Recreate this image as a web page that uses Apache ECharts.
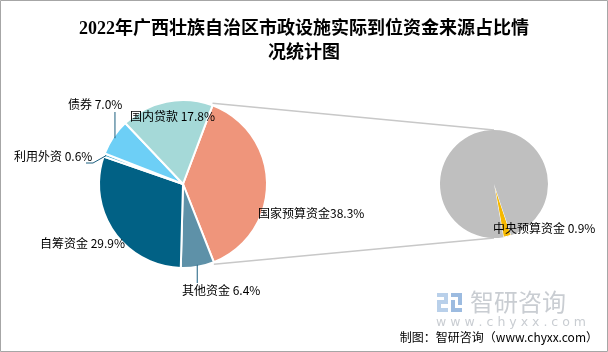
<!DOCTYPE html>
<html>
<head>
<meta charset="utf-8">
<script src="https://cdn.jsdelivr.net/npm/echarts@6/dist/echarts.min.js"></script>
<style>
  html, body { margin: 0; padding: 0; background: #fff; }
  #chart { width: 608px; height: 352px; }
</style>
</head>
<body>
<div id="chart"></div>
<script>
// 主饼图：资金来源（%）
var sourceNames = ['国家预算资金', '其他资金', '自筹资金', '利用外资', '债券', '国内贷款']
var sourceValues = [38.3, 6.4, 29.9, 0.6, 7.0, 17.8]
var sourceColors = ['#EF957B', '#5E91A8', '#016185', '#3EA8CF', '#6DCFF6', '#A5D9D8']

// 子饼图：国家预算资金拆分（%）
var subNames = ['中央预算资金', '其他']
var subValues = [0.9, 37.4]
var subColors = ['#F5B800', '#BFBFBF']

var mainCenter = [183, 184], mainRadius = 84
var subCenter = [494, 184], subRadius = 54
var mainStart = 69.4   // 度，逆时针自3点方向
var subStart = -71.5

// 标签位置（左端x，中线y）
var mainLabelPos = [[258, 213], [182, 290], [40, 243], [14, 156], [68, 104], [130, 116]]
var subLabelPos = [[493, 228], [0, 0]]

var chart = echarts.init(document.getElementById('chart'))

function fmt(p) {
  var sep = p.name === '国家预算资金' ? '' : ' '
  return p.name + sep + p.value.toFixed(1) + '%'
}

// 连接线：国家预算资金扇区两边 -> 子饼图上下
var total = sourceValues.reduce(function (a, b) { return a + b }, 0)
var a1 = (90 - mainStart) * Math.PI / 180
var a2 = a1 + sourceValues[0] / total * 2 * Math.PI
function edgePt(a, r) {
  return [mainCenter[0] + r * Math.sin(a), mainCenter[1] - r * Math.cos(a)]
}
var p1 = edgePt(a1, mainRadius), p2 = edgePt(a2, mainRadius)

// 扇区中点（引导线起点）
function midPt(i) {
  var before = 0
  for (var k = 0; k < i; k++) before += sourceValues[k]
  var a = a1 + (before + sourceValues[i] / 2) / total * 2 * Math.PI
  return edgePt(a, mainRadius - 2)
}
var mOther = midPt(1), mForeign = midPt(3), mBond = midPt(4)
var guideStyle = {stroke: '#1B5E7E', lineWidth: 1, fill: 'none'}

var labelFont = {fontSize: 12, color: '#000', fontFamily: '"Noto Sans CJK SC", sans-serif'}

chart.setOption({
  animation: false,
  title: {
    text: '2022年广西壮族自治区市政设施实际到位资金来源占比情\n况统计图',
    left: 'center',
    top: 12,
    textStyle: {
      fontSize: 18,
      fontWeight: 'bold',
      lineHeight: 24,
      color: '#000',
      fontFamily: '"Liberation Serif", "Noto Sans CJK SC", serif'
    }
  },
  graphic: [
    {type: 'rect', shape: {x: 0.5, y: 0.5, width: 607, height: 351}, style: {fill: 'none', stroke: '#A6A6A6', lineWidth: 1}, z: 0},
    {type: 'line', shape: {x1: p1[0], y1: p1[1] - 2, x2: subCenter[0], y2: subCenter[1] - subRadius}, style: {stroke: '#C8C8C8', lineWidth: 1.5}},
    {type: 'line', shape: {x1: p2[0], y1: p2[1] + 2, x2: subCenter[0], y2: subCenter[1] + subRadius}, style: {stroke: '#C8C8C8', lineWidth: 1.5}},
    // 引导线
    {type: 'polyline', z: 10, shape: {points: [mOther, [mOther[0], 283]]}, style: guideStyle},
    {type: 'polyline', z: 10, shape: {points: [mBond, [mBond[0], 112]]}, style: guideStyle},
    {type: 'polyline', z: 10, shape: {points: [mForeign, [93, 163], [86, 163]]}, style: guideStyle},
    // 水印
    {type: 'rect', shape: {x: 437, y: 293, width: 11, height: 4}, style: {fill: '#B9D0EA'}},
    {type: 'rect', shape: {x: 444, y: 293, width: 4, height: 11}, style: {fill: '#B9D0EA'}},
    {type: 'rect', shape: {x: 437, y: 300, width: 11, height: 4}, style: {fill: '#B9D0EA'}},
    {type: 'rect', shape: {x: 437, y: 300, width: 4, height: 12}, style: {fill: '#B9D0EA'}},
    {type: 'rect', shape: {x: 437, y: 308, width: 11, height: 4}, style: {fill: '#B9D0EA'}},
    {type: 'rect', shape: {x: 451, y: 293, width: 11, height: 4}, style: {fill: '#9CBBE0'}},
    {type: 'rect', shape: {x: 451, y: 300, width: 4, height: 12}, style: {fill: '#9CBBE0'}},
    {type: 'rect', shape: {x: 451, y: 308, width: 11, height: 4}, style: {fill: '#9CBBE0'}},
    {type: 'rect', shape: {x: 458, y: 293, width: 4, height: 12}, style: {fill: '#9CBBE0'}},
    {type: 'text', left: 470, top: 290, style: {text: '智研咨询', fontSize: 24, fill: '#C9CDD2', fontFamily: '"Noto Sans CJK SC", sans-serif'}},
    {type: 'text', left: 436, top: 316, style: {text: 'w w w . c h y x x . c o m', fontSize: 12.5, fill: '#C9CDD2', fontFamily: '"DejaVu Sans", sans-serif'}},
    {type: 'text', right: 10, top: 331, style: {text: '制图：智研咨询（www.chyxx.com）', fontSize: 12, fill: '#000', fontFamily: '"Noto Sans CJK SC", sans-serif'}}
  ],
  series: [
    {
      type: 'pie',
      center: mainCenter,
      radius: mainRadius,
      startAngle: mainStart,
      clockwise: true,
      avoidLabelOverlap: false,
      itemStyle: {borderColor: '#fff', borderWidth: 2},
      label: Object.assign({position: 'outside', formatter: fmt}, labelFont),
      labelLine: {show: false},
      labelLayout: function (p) {
        var pos = mainLabelPos[p.dataIndex]
        return {x: pos[0], y: pos[1], align: 'left', verticalAlign: 'middle'}
      },
      data: sourceNames.map(function (n, i) {
        return {name: n, value: sourceValues[i], itemStyle: {color: sourceColors[i]}}
      })
    },
    {
      type: 'pie',
      center: subCenter,
      radius: subRadius,
      startAngle: subStart,
      clockwise: true,
      avoidLabelOverlap: false,
      selectedOffset: 5,
      label: Object.assign({position: 'outside', formatter: fmt}, labelFont),
      labelLine: {show: false},
      labelLayout: function (p) {
        var pos = subLabelPos[p.dataIndex]
        return {x: pos[0], y: pos[1], align: 'left', verticalAlign: 'middle'}
      },
      data: subNames.map(function (n, i) {
        return {
          name: n,
          value: subValues[i],
          selected: i === 0,
          itemStyle: {color: subColors[i], borderColor: '#fff', borderWidth: i === 0 ? 1 : 0},
          label: {show: i === 0}
        }
      })
    }
  ]
})
</script>
</body>
</html>
